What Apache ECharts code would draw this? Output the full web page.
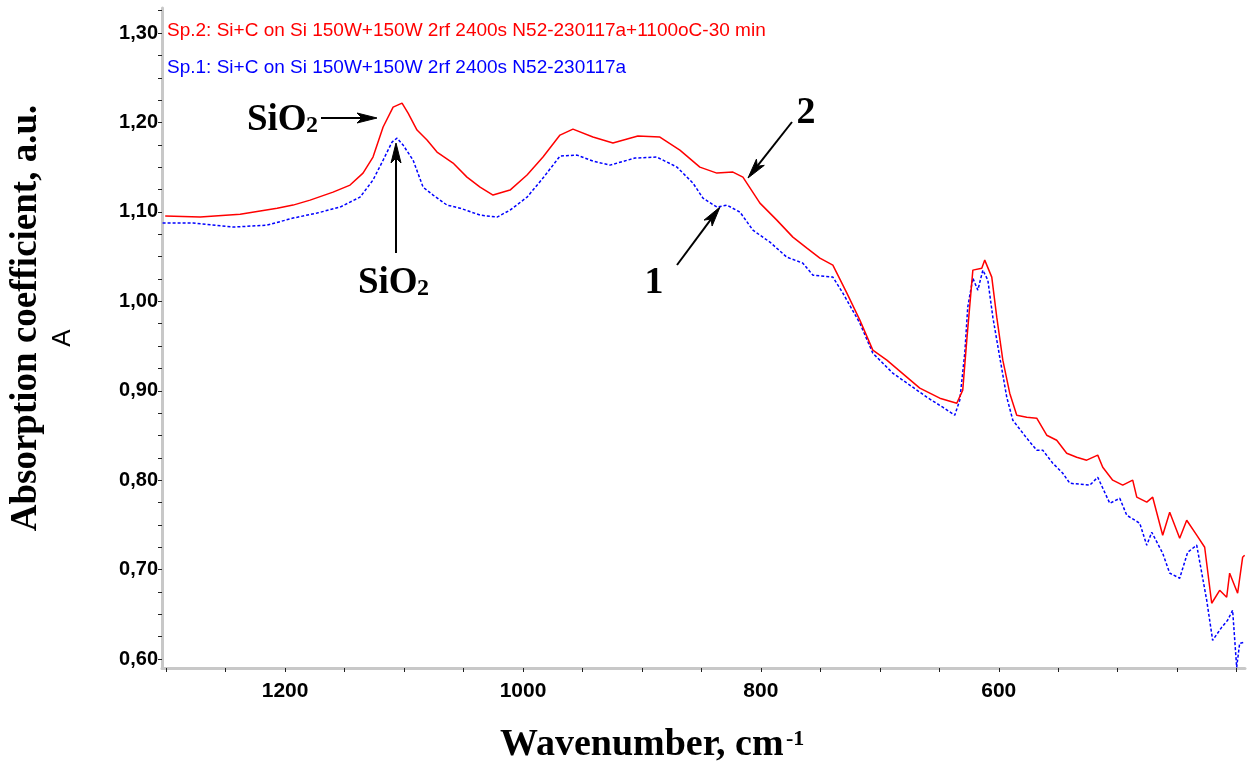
<!DOCTYPE html>
<html>
<head>
<meta charset="utf-8">
<script src="https://cdn.jsdelivr.net/npm/echarts@6/dist/echarts.min.js"></script>
<style>
html,body{margin:0;padding:0;background:#fff;}
#chart{width:1247px;height:766px;}
</style>
</head>
<body>
<div id="chart"></div>
<script>
// ---- Data ----
const SP2_NAME = 'Sp.2: Si+C on Si 150W+150W 2rf 2400s N52-230117a+1100oC-30 min';
const SP1_NAME = 'Sp.1: Si+C on Si 150W+150W 2rf 2400s N52-230117a';

const redWave = [1300.8,1271.4,1237.8,1206.7,1193.3,1179.0,1159.7,1145.4,1134.5,1126.1,1117.6,1109.2,1101.7,1096.6,1089.1,1080.7,1072.3,1058.8,1047.1,1036.1,1025.2,1010.9,996.6,983.2,968.9,958.0,941.2,924.4,903.4,884.9,868.1,851.3,837.0,823.5,815.1,800.8,786.6,773.1,761.3,750.4,739.5,727.7,716.8,705.9,694.1,677.3,666.4,649.6,635.3,630.3,626.9,621.8,614.3,611.8,605.9,601.7,596.6,590.8,584.9,576.5,568.1,559.7,551.3,542.9,534.5,526.1,516.8,512.6,504.2,495.8,487.4,484.0,475.6,470.6,462.2,456.3,447.9,442.0,433.6,426.9,421.0,414.3,408.4,405.9,399.2,395.0,393.3];
const redVal = [1.0953,1.0942,1.0975,1.1042,1.1076,1.1132,1.1221,1.1300,1.1434,1.1613,1.1949,1.2172,1.2217,1.2105,1.1915,1.1803,1.1669,1.1546,1.1389,1.1277,1.1188,1.1244,1.1412,1.1613,1.1859,1.1926,1.1837,1.1770,1.1848,1.1837,1.1691,1.1501,1.1434,1.1445,1.1389,1.1098,1.0908,1.0718,1.0595,1.0483,1.0405,1.0092,0.9790,0.9454,0.9342,0.9152,0.9029,0.8917,0.8861,0.9007,0.9566,1.0349,1.0371,1.0461,1.0271,0.9823,0.9342,0.8973,0.8727,0.8705,0.8693,0.8503,0.8447,0.8302,0.8257,0.8224,0.8280,0.8145,0.8000,0.7944,0.8000,0.7810,0.7754,0.7810,0.7385,0.7642,0.7351,0.7552,0.7385,0.7250,0.6624,0.6769,0.6691,0.6960,0.6736,0.7138,0.7161];

const blueWave = [1303.0,1277.3,1243.7,1215.1,1193.3,1173.1,1153.8,1137.0,1126.1,1117.6,1110.1,1105.9,1100.8,1092.4,1084.0,1075.6,1063.9,1052.9,1036.1,1021.8,1010.9,996.6,983.2,968.9,954.6,941.2,926.9,905.9,887.4,870.6,857.1,848.7,837.0,828.6,817.6,806.7,792.4,778.2,764.7,756.3,739.5,731.1,716.8,705.9,689.1,672.3,660.5,647.1,637.0,632.8,628.6,626.1,621.8,617.6,613.4,609.2,605.0,599.2,593.3,588.2,576.5,568.1,563.0,554.6,546.2,540.3,523.5,516.8,506.7,498.3,492.4,481.5,475.6,471.4,462.2,456.3,447.9,441.2,433.6,425.2,420.2,412.6,407.6,403.4,400.0,397.5,393.3];
const blueVal = [1.0875,1.0875,1.0830,1.0852,1.0931,1.0987,1.1054,1.1165,1.1356,1.1579,1.1781,1.1825,1.1747,1.1579,1.1277,1.1188,1.1076,1.1042,1.0964,1.0942,1.1020,1.1165,1.1378,1.1624,1.1635,1.1568,1.1523,1.1602,1.1613,1.1501,1.1322,1.1154,1.1054,1.1076,1.0998,1.0796,1.0662,1.0494,1.0427,1.0293,1.0271,1.0092,0.9756,0.9420,0.9197,0.9040,0.8928,0.8816,0.8727,0.8895,0.9420,0.9935,1.0259,1.0125,1.0349,1.0237,0.9823,0.9376,0.8928,0.8671,0.8470,0.8335,0.8335,0.8190,0.8078,0.7966,0.7944,0.8033,0.7742,0.7798,0.7608,0.7519,0.7273,0.7418,0.7183,0.6960,0.6904,0.7194,0.7273,0.6658,0.6210,0.6355,0.6434,0.6546,0.5908,0.6176,0.6188];

const xTickValues = [400,450,500,550,600,650,700,750,800,850,900,950,1000,1050,1100,1150,1200,1250,1300];
const xTickLabels = [600,800,1000,1200];
const yTickValues = [0.600,0.625,0.650,0.675,0.700,0.725,0.750,0.775,0.800,0.825,0.850,0.875,0.900,0.925,0.950,0.975,1.000,1.025,1.050,1.075,1.100,1.125,1.150,1.175,1.200,1.225,1.250,1.275,1.300,1.325];
const yTickLabels = [0.6,0.7,0.8,0.9,1.0,1.1,1.2,1.3];

// ---- Chart ----
const SANS = '"Liberation Sans",Arial,sans-serif';
const SERIF = '"Liberation Serif","DejaVu Serif",serif';

const chart = echarts.init(document.getElementById('chart'));
const pair = (ws, vs) => ws.map((w, i) => [w, vs[i]]);

// annotation arrow: shaft + filled barbed head
function arrow(x1, y1, x2, y2) {
  const dx = x2 - x1, dy = y2 - y1, L = Math.hypot(dx, dy);
  const ux = dx / L, uy = dy / L, nx = -uy, ny = ux;
  const hl = 20, hw = 5, notch = 15;
  const bx = x2 - ux * hl, by = y2 - uy * hl;
  const mx = x2 - ux * notch, my = y2 - uy * notch;
  return [
    {type: 'line', shape: {x1: x1, y1: y1, x2: mx, y2: my}, style: {stroke: '#000', lineWidth: 2}},
    {type: 'polygon', shape: {points: [[x2, y2], [bx + nx * hw, by + ny * hw], [mx, my], [bx - nx * hw, by - ny * hw]]},
      style: {fill: '#000', stroke: '#000', lineWidth: 1}}
  ];
}

const option = {
  animation: false,
  backgroundColor: '#ffffff',
  grid: {left: 162, right: 2, top: 8, bottom: 98, containLabel: false},
  legend: {
    orient: 'vertical', left: 156, top: 16, itemWidth: 0, itemHeight: 0, itemGap: 18,
    selectedMode: false,
    itemStyle: {opacity: 0}, lineStyle: {opacity: 0},
    textStyle: {fontFamily: SANS, fontSize: 19, padding: 0},
    data: [
      {name: SP2_NAME, textStyle: {color: '#ff0000'}},
      {name: SP1_NAME, textStyle: {color: '#0000ff'}}
    ]
  },
  xAxis: {
    type: 'value', inverse: true, min: 393, max: 1303.5,
    axisLine: {show: true, onZero: false, lineStyle: {color: '#c8c8c8', width: 3}},
    axisTick: {show: true, customValues: xTickValues, length: 4, lineStyle: {color: '#222', width: 1}},
    axisLabel: {customValues: xTickLabels, margin: 13, color: '#000', fontFamily: SANS, fontWeight: 'bold', fontSize: 21,
      formatter: v => String(v)},
    splitLine: {show: false}
  },
  yAxis: {
    type: 'value', min: 0.59, max: 1.328,
    axisLine: {show: true, onZero: false, lineStyle: {color: '#c8c8c8', width: 3}},
    axisTick: {show: true, customValues: yTickValues, length: 4, lineStyle: {color: '#222', width: 1}},
    axisLabel: {customValues: yTickLabels, margin: 4, color: '#000', fontFamily: SANS, fontWeight: 'bold', fontSize: 20,
      formatter: v => v.toFixed(2).replace('.', ',')},
    splitLine: {show: false}
  },
  series: [
    {name: SP2_NAME, type: 'line', showSymbol: false, symbol: 'none', data: pair(redWave, redVal),
      lineStyle: {color: '#ff0000', width: 1.5}, itemStyle: {color: '#ff0000'}, z: 3},
    {name: SP1_NAME, type: 'line', showSymbol: false, symbol: 'none', data: pair(blueWave, blueVal),
      lineStyle: {color: '#0000ff', width: 1.5, type: [3, 2]}, itemStyle: {color: '#0000ff'}, z: 2}
  ],
  graphic: [
    // axis titles
    {type: 'text', x: 26, y: 318, rotation: Math.PI / 2,
      style: {text: 'Absorption coefficient, a.u.', font: 'bold 37px ' + SERIF, fill: '#000', textAlign: 'center', textVerticalAlign: 'middle'}},
    {type: 'text', x: 63, y: 338, rotation: Math.PI / 2,
      style: {text: 'A', font: '26px ' + SANS, fill: '#000', textAlign: 'center', textVerticalAlign: 'middle'}},
    {type: 'text', x: 500, y: 745,
      style: {text: 'Wavenumber, cm', font: 'bold 38px ' + SERIF, fill: '#000', textAlign: 'left', textVerticalAlign: 'middle'}},
    {type: 'text', x: 786, y: 739,
      style: {text: '-1', font: 'bold 22px ' + SERIF, fill: '#000', textAlign: 'left', textVerticalAlign: 'middle'}},
    // upper SiO2 annotation
    {type: 'text', x: 247, y: 120,
      style: {text: 'SiO', font: 'bold 37px ' + SERIF, fill: '#000', textAlign: 'left', textVerticalAlign: 'middle'}},
    {type: 'text', x: 306, y: 126,
      style: {text: '2', font: 'bold 24px ' + SERIF, fill: '#000', textAlign: 'left', textVerticalAlign: 'middle'}},
    ...arrow(321, 118, 377, 118),
    // lower SiO2 annotation
    {type: 'text', x: 358, y: 283,
      style: {text: 'SiO', font: 'bold 37px ' + SERIF, fill: '#000', textAlign: 'left', textVerticalAlign: 'middle'}},
    {type: 'text', x: 417, y: 289,
      style: {text: '2', font: 'bold 24px ' + SERIF, fill: '#000', textAlign: 'left', textVerticalAlign: 'middle'}},
    ...arrow(396, 253, 396, 143),
    // label 2
    {type: 'text', x: 806, y: 113,
      style: {text: '2', font: 'bold 38px ' + SERIF, fill: '#000', textAlign: 'center', textVerticalAlign: 'middle'}},
    ...arrow(792, 122, 748, 178),
    // label 1
    {type: 'text', x: 654, y: 283,
      style: {text: '1', font: 'bold 38px ' + SERIF, fill: '#000', textAlign: 'center', textVerticalAlign: 'middle'}},
    ...arrow(677, 265, 720, 207)
  ]
};
chart.setOption(option);
</script>
</body>
</html>
